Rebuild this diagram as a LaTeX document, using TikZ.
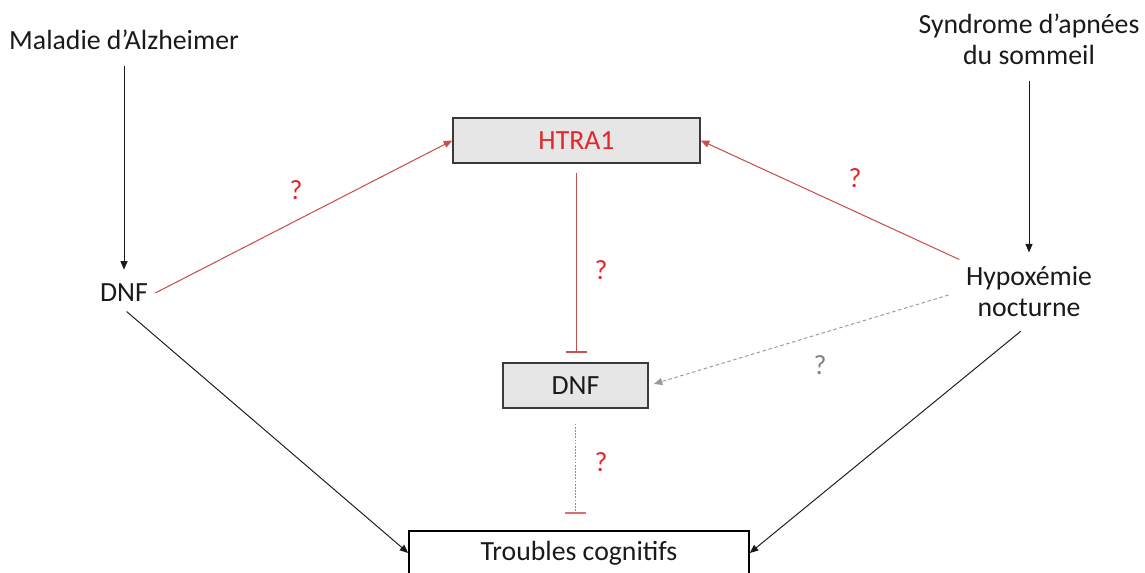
\documentclass[tikz,border=0pt]{standalone}
\usepackage{fontspec}
\setmainfont{Carlito}
\usetikzlibrary{arrows.meta,positioning}
\definecolor{inkblack}{HTML}{1A1A1A}
\definecolor{edgegray}{HTML}{3A3A3A}
\definecolor{boxfill}{HTML}{E7E6E6}
\definecolor{htrared}{HTML}{E2262B}
\definecolor{linkred}{HTML}{C9504F}
\definecolor{dashgray}{HTML}{9A9A9A}

\begin{document}
\begin{tikzpicture}[
    x=0.02cm, y=-0.02cm,
    font=\fontsize{15.8}{17.6}\selectfont,
    >={Triangle[length=1.7mm,width=1.4mm]},
    plain/.style={align=center, text=inkblack, inner sep=4pt},
    greybox/.style={draw=edgegray, fill=boxfill, line width=0.9pt,
                    minimum height=0.9cm, inner sep=0pt},
    outbox/.style={draw=black, fill=white, line width=0.9pt,
                   minimum height=0.88cm, minimum width=6.8cm, inner sep=0pt},
    cause/.style={->, line width=0.55pt, inkblack},
    link/.style={->, line width=0.6pt, linkred},
    block/.style={-{Bar[width=4.2mm,line width=0.6pt]}, line width=0.6pt, linkred},
    maybe/.style={->, line width=0.55pt, dashgray, dash pattern=on 2pt off 1.5pt},
    qmark/.style={inner sep=0pt, text=htrared},
]
    \useasboundingbox (0,0) rectangle (1145,573);

    % ============================================================
    %  NODES
    % ============================================================
    % Left column
    \node[plain] (alz)  at (124,40)  {Maladie d’Alzheimer};
    \node[plain] (dnfl) at (124,293) {DNF};
    % Right column
    \node[plain] (sas)  at (1029,39) {Syndrome d’apnées\\du sommeil};
    \node[plain] (hypo) at (1029,292) {Hypoxémie\\nocturne};
    % Centre
    \node[greybox, minimum width=4.94cm, text=htrared] (htra) at (576.5,140.5) {HTRA1};
    \node[greybox, minimum width=2.9cm, text=inkblack] (dnfc) at (575.5,385.5) {DNF};
    \node[outbox, text=inkblack] (cogn) at (579,553) {Troubles cognitifs};

    % ============================================================
    %  CAUSAL EDGES (black)
    % ============================================================
    \draw[cause, shorten <=5pt, shorten >=4pt] (alz) -- (dnfl);
    \draw[cause, shorten <=5pt, shorten >=4pt] (sas) -- (hypo);
    \draw[cause, shorten <=2pt] (dnfl.south) -- (cogn.west);
    \draw[cause, shorten <=6pt] (hypo.south) -- (cogn.east);

    % ============================================================
    %  HYPOTHESES (red, questioned)
    % ============================================================
    \draw[link] (dnfl.east) -- (htra.west);
    \draw[link] (hypo.155) -- (htra.east);
    \draw[block, shorten <=5pt, shorten >=5.5pt] (htra.south) -- (htra.south |- dnfc.north);
    \draw[block, linkred!80, dash pattern=on 1pt off 0.8pt, shorten <=8.5pt, shorten >=9.5pt]
        (dnfc.south) -- (dnfc.south |- cogn.north);
    \draw[maybe, shorten <=6pt, shorten >=3pt] (hypo.west) -- (dnfc.east);

    \node[qmark] (q1) at (296,190) {?};
    \node[qmark] (q2) at (855,178) {?};
    \node[qmark] (q3) at (601,270) {?};
    \node[qmark] (q4) at (601,462) {?};
    \node[qmark, text=dashgray!85!black] (q5) at (820,365) {?};

\end{tikzpicture}
\end{document}
